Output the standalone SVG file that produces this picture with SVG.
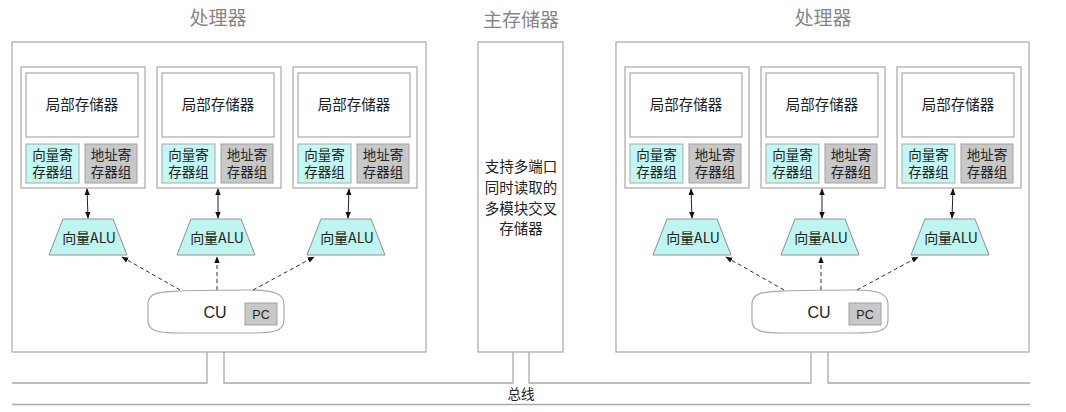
<svg xmlns="http://www.w3.org/2000/svg" width="1066" height="412" viewBox="0 0 1066 412">
<defs>
<style>
.box{fill:#fff;stroke:#a8a8a8;stroke-width:1.2}
.vec{fill:#c2f7f4;stroke:#a8a8a8;stroke-width:1}
.adr{fill:#c8c8c8;stroke:#a0a0a0;stroke-width:1}
.alu{fill:#bff5f1;stroke:#909090;stroke-width:1}
.t{font-family:"Noto Sans CJK SC","Liberation Sans",sans-serif;fill:#222;text-anchor:middle}
.title{font-family:"Noto Sans CJK SC","Liberation Sans",sans-serif;fill:#858585;text-anchor:middle;font-size:19px}
.l{font-size:14.5px}
.s{font-size:13.5px}
.solid{stroke:#222;stroke-width:1;fill:none}
.dash{stroke:#333;stroke-width:1;fill:none;stroke-dasharray:4,3}
.bus{stroke:#aaa;stroke-width:1.3;fill:none}
</style>
<marker id="ah" viewBox="0 0 10 10" refX="9" refY="5" markerWidth="7" markerHeight="7" orient="auto-start-reverse"><path d="M0,1 L10,5 L0,9 Z" fill="#111"/></marker>
<g id="unit">
<rect class="box" x="0" y="0" width="124" height="121"/>
<rect class="box" x="5" y="6" width="112" height="64"/>
<text class="t l" x="61" y="43">局部存储器</text>
<rect class="vec" x="5" y="77" width="53" height="39"/>
<text class="t s" x="31.5" y="93">向量寄</text>
<text class="t s" x="31.5" y="110">存器组</text>
<rect class="adr" x="64" y="77" width="52" height="39"/>
<text class="t s" x="90" y="93">地址寄</text>
<text class="t s" x="90" y="110">存器组</text>
</g>
<g id="alu">
<path class="alu" d="M-25,0 L25,0 L39,36 L-39,36 Z"/>
<text class="t" style="font-size:14px" x="1" y="24">向量ALU</text>
</g>
<g id="cu">
<path class="box" d="M148,304 C148,292 160,292 180,291 C200,290 230,290 250,290 C275,290 284,294 284,304 L284,320 C284,332 272,333 250,333 L178,333 C155,333 148,330 148,320 Z"/>
<text class="t" style="font-size:16px;font-family:'Liberation Sans',sans-serif" x="215" y="318">CU</text>
<rect class="adr" x="245" y="303" width="32" height="22"/>
<text class="t" style="font-size:12.5px;font-family:'Liberation Sans',sans-serif" x="261" y="319">PC</text>
</g>
</defs>

<g id="proc-left">
<text class="title" x="218" y="25">处理器</text>
<rect class="box" x="12" y="42" width="414" height="310"/>
<g id="left-unit1"><use href="#unit" x="21" y="67"/></g>
<g id="left-unit2"><use href="#unit" x="157" y="67"/></g>
<g id="left-unit3"><use href="#unit" x="293" y="67"/></g>
<g id="left-alu1"><use href="#alu" x="88" y="219"/></g>
<g id="left-alu2"><use href="#alu" x="216" y="219"/></g>
<g id="left-alu3"><use href="#alu" x="346" y="219"/></g>
<g id="left-cu"><use href="#cu"/></g>
</g>

<g id="main-memory">
<text class="title" x="521" y="27">主存储器</text>
<rect class="box" x="478" y="42" width="85" height="310"/>
<text class="t l" x="521" y="172">支持多端口</text>
<text class="t l" x="521" y="193">同时读取的</text>
<text class="t l" x="521" y="214">多模块交叉</text>
<text class="t l" x="521" y="234">存储器</text>
</g>

<g id="proc-right">
<text class="title" x="823" y="25">处理器</text>
<rect class="box" x="616" y="42" width="413" height="310"/>
<g id="right-unit1"><use href="#unit" x="625" y="67"/></g>
<g id="right-unit2"><use href="#unit" x="761" y="67"/></g>
<g id="right-unit3"><use href="#unit" x="897" y="67"/></g>
<g id="right-alu1"><use href="#alu" x="692" y="219"/></g>
<g id="right-alu2"><use href="#alu" x="820" y="219"/></g>
<g id="right-alu3"><use href="#alu" x="950" y="219"/></g>
<g id="right-cu"><use href="#cu" x="604"/></g>
</g>

<g id="connectors">
<path class="solid" marker-start="url(#ah)" marker-end="url(#ah)" d="M87,189 L88,218"/>
<path class="solid" marker-start="url(#ah)" marker-end="url(#ah)" d="M218,189 L218,218"/>
<path class="solid" marker-start="url(#ah)" marker-end="url(#ah)" d="M349,189 L348,218"/>
<path class="dash" marker-end="url(#ah)" d="M180,290 L122,257"/>
<path class="dash" marker-end="url(#ah)" d="M217,290 L217,257"/>
<path class="dash" marker-end="url(#ah)" d="M253,290 L314,257"/>

<path class="solid" marker-start="url(#ah)" marker-end="url(#ah)" d="M691,189 L692,218"/>
<path class="solid" marker-start="url(#ah)" marker-end="url(#ah)" d="M822,189 L822,218"/>
<path class="solid" marker-start="url(#ah)" marker-end="url(#ah)" d="M953,189 L952,218"/>
<path class="dash" marker-end="url(#ah)" d="M784,290 L726,257"/>
<path class="dash" marker-end="url(#ah)" d="M821,290 L821,257"/>
<path class="dash" marker-end="url(#ah)" d="M857,290 L918,257"/>
</g>

<g id="bus">
<path class="bus" d="M12,383 L207,383 L207,352 M224,352 L224,383 L513,383 L513,352 M529,352 L529,383 L811,383 L811,352 M828,352 L828,383 L1030,383"/>
<path class="bus" d="M12,404.5 L1030,404.5"/>
<text class="t" style="font-size:13.5px" x="521" y="399">总线</text>
</g>
</svg>
